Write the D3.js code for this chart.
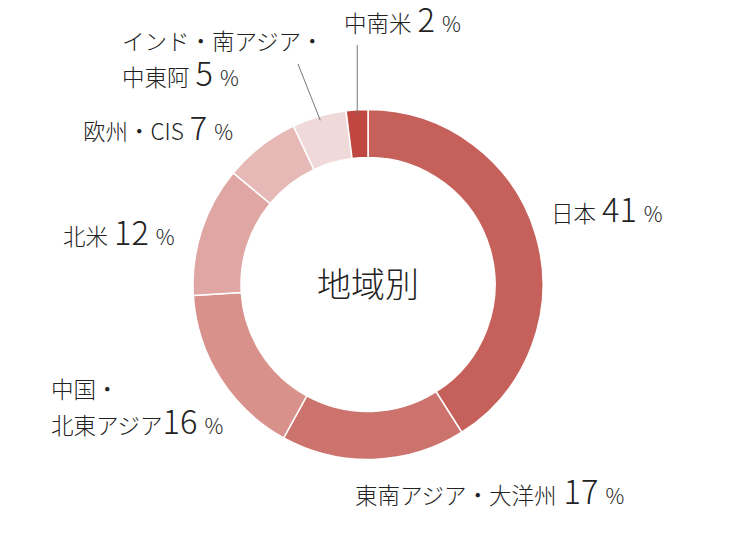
<!DOCTYPE html>
<html><head><meta charset="utf-8">
<script src="https://cdn.jsdelivr.net/npm/d3@7"></script>
<style>
html,body{margin:0;padding:0;background:#fff;}
text{font-family:"Noto Sans CJK JP","Noto Sans",sans-serif;font-weight:300;fill:#222;}
</style></head>
<body><svg id="c" width="750" height="550"></svg>
<script>
const categories = ["日本","東南アジア・大洋州","中国・北東アジア","北米","欧州・CIS","インド・南アジア・中東阿","中南米"];
const values = [41,17,16,12,7,5,2];
const labelLines = [["日本"],["東南アジア・大洋州"],["中国・","北東アジア"],["北米"],["欧州・CIS"],["インド・南アジア・","中東阿"],["中南米"]];
const colors = ["#c6605a","#cc736d","#d8918b","#e0a6a3","#e6b9b7","#f0d9d9","#c0473f"];
const centerTitle = "地域別";

// layout (not data)
const cx = 368, cy = 284.5, R = 175, r = 127;
const labelPos = [
  {x:551,y:222,gap:6},
  {x:355,y:504,gap:7},
  {x:51,y:434,gap:0},
  {x:63,y:245,gap:6},
  {x:83,y:140,gap:6},
  {x:122,y:86,gap:6},
  {x:344,y:32,gap:6}
];
const leaders = {5:{x:298,y:64}, 6:{x:null,y:45}};

const svg = d3.select("#c");
const g = svg.append("g").attr("transform",`translate(${cx},${cy})`);
const pie = d3.pie().sort(null).value(d=>d.v);
const data = categories.map((c,i)=>({c,v:values[i],i}));
const arcs = pie(data);
const arc = d3.arc().innerRadius(r).outerRadius(R);
const color = d3.scaleOrdinal().domain(categories).range(colors);

g.selectAll("path.s").data(arcs).join("path")
  .attr("class","s")
  .attr("d",arc)
  .attr("fill",d=>color(d.data.c))
  .attr("stroke","#fff").attr("stroke-width",1.5);

// leader lines
arcs.forEach((a,i)=>{
  if(!(i in leaders)) return;
  const m=(a.startAngle+a.endAngle)/2;
  const rr=R-4;
  const x1=Math.sin(m)*rr, y1=-Math.cos(m)*rr;
  const L=leaders[i];
  const x2=(L.x===null? x1 : L.x-cx), y2=L.y-cy;
  g.append("line").attr("x1",x1).attr("y1",y1).attr("x2",x2).attr("y2",y2)
    .attr("stroke","#777").attr("stroke-width",1);
});

// labels
arcs.forEach((a,i)=>{
  const p=labelPos[i];
  const lines=labelLines[i];
  const lh=36;
  lines.forEach((ln,k)=>{
    const y=p.y-(lines.length-1-k)*lh;
    const t=svg.append("text").attr("x",p.x).attr("y",y);
    t.append("tspan").attr("font-size",22.5).text(ln);
    if(k===lines.length-1){
      t.append("tspan").attr("font-size",32.5).attr("dx",p.gap).text(values[i]);
      t.append("tspan").attr("font-size",21).attr("dx",7).text("%");
    }
  });
});

svg.append("text").attr("x",cx).attr("y",cy+12).attr("text-anchor","middle")
  .attr("font-size",34).text(centerTitle);
</script></body></html>
